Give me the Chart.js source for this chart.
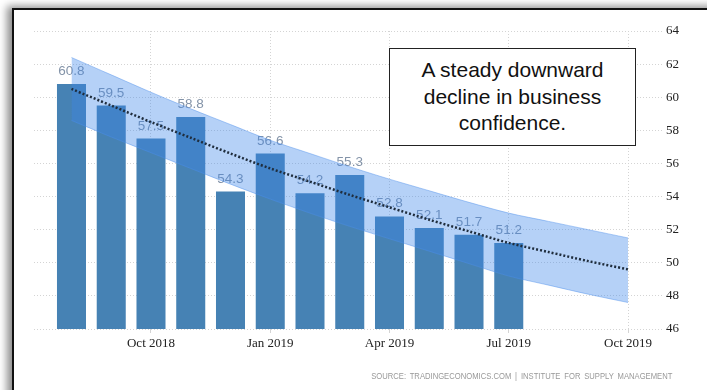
<!DOCTYPE html>
<html>
<head>
<meta charset="utf-8">
<script src="https://cdn.jsdelivr.net/npm/chart.js@4.4.1/dist/chart.umd.min.js"></script>
<style>
  html, body { margin: 0; padding: 0; background: #fff; }
  body { width: 707px; height: 390px; position: relative; overflow: hidden; }
  #frame {
    position: absolute; left: 12px; top: 8px; width: 760px; height: 440px;
    border-left: 2px solid #111; border-top: 2px solid #111; background: #fff;
    box-shadow: -5px -2px 8px rgba(0, 0, 0, 0.45);
  }
  #wrap { position: absolute; left: 0; top: 0; width: 707px; height: 390px; }
  #note {
    position: absolute; left: 389px; top: 48px; width: 245px; height: 96px;
    border: 1.5px solid #222; background: #fff;
    display: flex; align-items: center; justify-content: center; text-align: center;
    font: 21px/26.5px "Liberation Sans", Arial, sans-serif; color: #111;
  }
  #source {
    position: absolute; right: 35px; top: 371px; white-space: nowrap;
    font: 9px "Liberation Sans Narrow", "Liberation Sans", sans-serif;
    word-spacing: 2px; color: #999;
    transform: scaleX(0.85); transform-origin: right center;
  }
</style>
</head>
<body>
<div id="frame"></div>
<div id="wrap"><canvas id="pmi" width="707" height="390"></canvas></div>
<div id="note">A steady downward<br>decline in business<br>confidence.</div>
<div id="source">SOURCE: TRADINGECONOMICS.COM | INSTITUTE FOR SUPPLY MANAGEMENT</div>
<script>
// months counted from Jul 2018 = 0
const months = ['Aug 2018', 'Sep 2018', 'Oct 2018', 'Nov 2018', 'Dec 2018', 'Jan 2019',
  'Feb 2019', 'Mar 2019', 'Apr 2019', 'May 2019', 'Jun 2019', 'Jul 2019'];
const monthIdx = [1, 2, 3, 4, 5, 6, 7, 8, 9, 10, 11, 12];
const pmiValues = [60.8, 59.5, 57.5, 58.8, 54.3, 56.6, 54.2, 55.3, 52.8, 52.1, 51.7, 51.2];

// trend + forecast band, Aug 2018 .. Oct 2019
const trendIdx = [1, 2, 3, 4, 5, 6, 7, 8, 9, 10, 11, 12, 13, 14, 15];
const trendValues = [60.5, 59.5, 58.5, 57.55, 56.6, 55.7, 54.9, 54.1, 53.35, 52.6, 51.9, 51.2, 50.65, 50.1, 49.6];
const bandUpper = [62.4, 61.35, 60.3, 59.3, 58.35, 57.4, 56.6, 55.8, 55.05, 54.35, 53.65, 53.0, 52.5, 52.0, 51.5];
const bandLower = [58.6, 57.6, 56.65, 55.7, 54.75, 53.85, 53.0, 52.2, 51.45, 50.7, 49.95, 49.2, 48.65, 48.1, 47.6];

const tickIdx = [3, 6, 9, 12, 15];
const tickLabels = ['Oct 2018', 'Jan 2019', 'Apr 2019', 'Jul 2019', 'Oct 2019'];

const pts = (xs, ys) => xs.map((x, i) => ({ x: x, y: ys[i] }));

// value labels above the bars
const barLabels = {
  id: 'barLabels',
  afterDatasetDraw(chart, args) {
    if (args.index !== 0) return;
    const ctx = chart.ctx;
    ctx.save();
    ctx.font = '13.5px "Liberation Sans Narrow", "Liberation Sans", sans-serif';
    ctx.fillStyle = '#8393a8';
    ctx.textAlign = 'center';
    ctx.textBaseline = 'alphabetic';
    args.meta.data.forEach((bar, i) => {
      ctx.fillText(pmiValues[i].toFixed(1), bar.x, bar.y - 9);
    });
    ctx.restore();
  }
};

const ctx = document.getElementById('pmi').getContext('2d');
const pmiChart = new Chart(ctx, {
  type: 'bar',
  data: {
    datasets: [
      {
        label: 'ISM PMI',
        data: pts(monthIdx, pmiValues),
        backgroundColor: '#4682b4',
        categoryPercentage: 1,
        barPercentage: 0.73,
        order: 3,
      },
      {
        type: 'line',
        label: 'upper',
        data: pts(trendIdx, bandUpper),
        borderColor: 'rgba(80,145,235,0.45)',
        borderWidth: 1,
        backgroundColor: 'rgba(60,135,235,0.38)',
        fill: '+1',
        pointRadius: 0,
        tension: 0.3,
        order: 2,
      },
      {
        type: 'line',
        label: 'lower',
        data: pts(trendIdx, bandLower),
        borderColor: 'rgba(80,145,235,0.45)',
        borderWidth: 1,
        fill: false,
        pointRadius: 0,
        tension: 0.3,
        order: 2,
      },
      {
        type: 'line',
        label: 'trend',
        data: pts(trendIdx, trendValues),
        borderColor: '#1f2d3d',
        borderWidth: 2.5,
        borderDash: [2, 2],
        fill: false,
        pointRadius: 0,
        tension: 0.3,
        order: 1,
      },
    ],
  },
  options: {
    responsive: false,
    animation: false,
    layout: { padding: { left: 34, top: 31, right: 0, bottom: 0 } },
    plugins: { legend: { display: false }, tooltip: { enabled: false } },
    scales: {
      x: {
        type: 'linear',
        offset: false,
        min: 0.057,
        max: 15.88,
        afterBuildTicks: (scale) => { scale.ticks = tickIdx.map(v => ({ value: v })); },
        afterFit: (scale) => { scale.height = 61; },
        ticks: {
          callback: (v) => tickLabels[tickIdx.indexOf(v)],
          font: { family: '"Liberation Sans Narrow"', size: 13 },
          color: '#222',
          padding: 3,
          maxRotation: 0,
        },
        grid: { color: '#d4d4d4', tickLength: 4, offset: false },
        border: { display: false, dash: [1, 2] },
      },
      y: {
        position: 'right',
        min: 46,
        max: 64,
        afterFit: (scale) => { scale.width = 44; },
        ticks: {
          stepSize: 2,
          font: { family: '"Liberation Sans Narrow"', size: 13 },
          color: '#222',
          padding: 3,
        },
        grid: { color: '#d4d4d4', drawTicks: false },
        border: { display: false, dash: [1, 2] },
      },
    },
  },
  plugins: [barLabels],
});
</script>
</body>
</html>
